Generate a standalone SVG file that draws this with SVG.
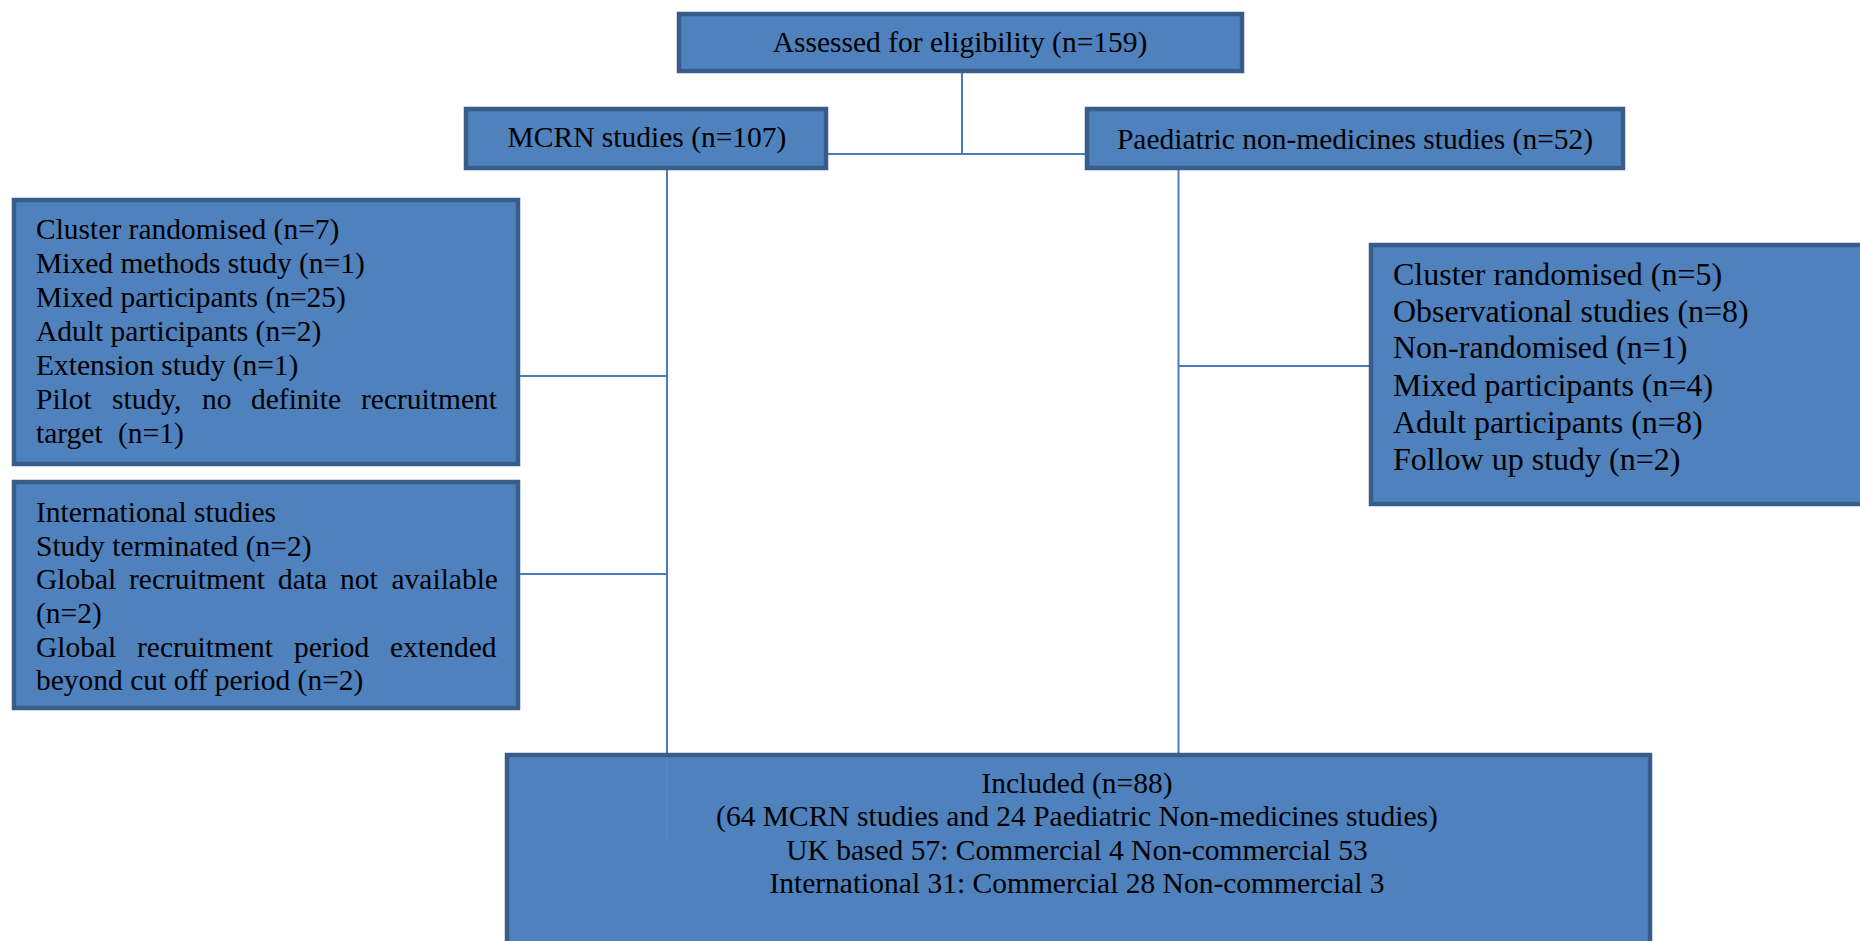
<svg xmlns="http://www.w3.org/2000/svg" width="1860" height="941" viewBox="0 0 1860 941">
<style>
.box{fill:#4f81bd;stroke:#385d8a;stroke-width:4.5}
.t{font-family:"Liberation Serif","Times New Roman",serif;font-size:29.5px;fill:#000}
.tc{text-anchor:middle}
.tr{font-size:32px}
.c{stroke:#4a7ebb;stroke-width:2;fill:none}
</style>
<rect width="1860" height="941" fill="#fff"/>
<g id="connectors">
<line class="c" x1="962" y1="73" x2="962" y2="154"/>
<line class="c" x1="826" y1="154" x2="1087" y2="154"/>
<line class="c" x1="667" y1="170" x2="667" y2="753"/>
<line class="c" x1="520" y1="376" x2="667" y2="376"/>
<line class="c" x1="520" y1="574" x2="667" y2="574"/>
<line class="c" x1="1178.5" y1="170" x2="1178.5" y2="753"/>
<line class="c" x1="1178" y1="366" x2="1369" y2="366"/>
</g>
<g id="assessed">
<rect class="box" x="679" y="14" width="563" height="57"/>
<text class="t tc" x="960" y="52">Assessed for eligibility (n=159)</text>
</g>
<g id="mcrn">
<rect class="box" x="466" y="109" width="360" height="59"/>
<text class="t tc" x="647" y="147">MCRN studies (n=107)</text>
</g>
<g id="paediatric">
<rect class="box" x="1087" y="109" width="536" height="59"/>
<text class="t tc" x="1355" y="149">Paediatric non-medicines studies (n=52)</text>
</g>
<g id="excluded-mcrn-1">
<rect class="box" x="14" y="200" width="504" height="264"/>
<text class="t" x="36" y="239">Cluster randomised (n=7)</text>
<text class="t" x="36" y="273">Mixed methods study (n=1)</text>
<text class="t" x="36" y="307">Mixed participants (n=25)</text>
<text class="t" x="36" y="341">Adult participants (n=2)</text>
<text class="t" x="36" y="375">Extension study (n=1)</text>
<text class="t" y="409"><tspan x="36">Pilot</tspan><tspan x="112">study,</tspan><tspan x="202">no</tspan><tspan x="251">definite</tspan><tspan x="361">recruitment</tspan></text>
<text class="t" y="443"><tspan x="36">target</tspan><tspan x="118">(n=1)</tspan></text>
</g>
<g id="excluded-mcrn-2">
<rect class="box" x="14" y="482" width="504" height="226"/>
<text class="t" x="36" y="522">International studies</text>
<text class="t" x="36" y="556">Study terminated (n=2)</text>
<text class="t" y="589"><tspan x="36">Global</tspan><tspan x="129">recruitment</tspan><tspan x="278">data</tspan><tspan x="340">not</tspan><tspan x="391.5">available</tspan></text>
<text class="t" x="36" y="623">(n=2)</text>
<text class="t" y="657"><tspan x="36">Global</tspan><tspan x="137">recruitment</tspan><tspan x="294">period</tspan><tspan x="390">extended</tspan></text>
<text class="t" x="36" y="690">beyond cut off period (n=2)</text>
</g>
<g id="excluded-paediatric">
<rect class="box" x="1371" y="245" width="500" height="259"/>
<text class="t tr" x="1393" y="285">Cluster randomised (n=5)</text>
<text class="t tr" x="1393" y="322">Observational studies (n=8)</text>
<text class="t tr" x="1393" y="358">Non-randomised (n=1)</text>
<text class="t tr" x="1393" y="396">Mixed participants (n=4)</text>
<text class="t tr" x="1393" y="433">Adult participants (n=8)</text>
<text class="t tr" x="1393" y="470">Follow up study (n=2)</text>
</g>
<g id="included">
<rect class="box" x="507" y="755" width="1143" height="200"/>
<line x1="667" y1="757" x2="667" y2="842" stroke="#5a8ac4" stroke-width="1"/>
<text class="t tc" x="1077" y="793">Included (n=88)</text>
<text class="t tc" x="1077" y="826">(64 MCRN studies and 24 Paediatric Non-medicines studies)</text>
<text class="t tc" x="1077" y="860">UK based 57: Commercial 4 Non-commercial 53</text>
<text class="t tc" x="1077" y="893">International 31: Commercial 28 Non-commercial 3</text>
</g>
</svg>
